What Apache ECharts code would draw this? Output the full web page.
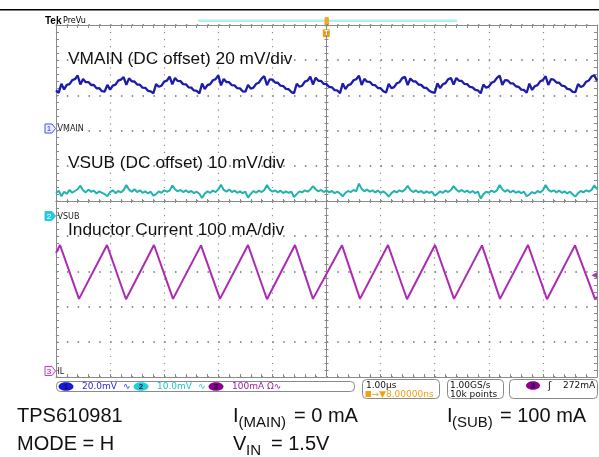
<!DOCTYPE html>
<html><head><meta charset="utf-8">
<script src="https://cdn.jsdelivr.net/npm/echarts@6/dist/echarts.min.js"></script>
<style>html,body{margin:0;padding:0;background:#fff}#c{width:599px;height:457px}</style>
</head><body><div id="c"></div><script>
// ---- Time base: 1 µs/div, 10 divisions, trigger at centre ----
const timeMinUs = -5, timeMaxUs = 5;
const divMin = -5, divMax = 5;
const sampleStartUs = -5, sampleStepUs = 0.05;

// ---- Channel settings (scale per division, ground marker position in divisions) ----
const ch1Scale = 20,  ch1Ground = 2.07;   // VMAIN, mV/div (DC offset)
const ch2Scale = 10,  ch2Ground = -0.426; // VSUB,  mV/div (DC offset)
const ch3Scale = 100, ch3Ground = -4.83;  // IL,    mA/div

// ---- VMAIN ripple (mV above channel marker), sampled every 0.05 µs ----
const vmainMv = [
 21.4,20.0,25.2,22.0,24.6,25.0,27.3,27.8,29.9,24.8,
 27.9,26.1,26.2,24.5,24.5,22.6,22.7,21.0,20.8,24.6,
 21.9,24.2,24.7,27.0,27.6,29.0,24.6,28.3,26.6,26.5,
 24.8,24.7,23.0,22.9,21.2,20.9,19.8,25.0,23.5,24.1,
 26.4,27.0,29.3,24.9,28.5,26.8,26.7,25.0,24.9,23.2,
 23.0,21.4,21.2,19.7,25.3,22.2,24.4,25.0,27.2,27.8,
 30.0,24.3,27.9,26.2,26.1,24.4,24.3,22.7,22.6,20.9,
 20.7,24.6,22.4,23.0,25.2,25.8,28.1,29.5,24.4,27.7,
 27.6,25.9,25.8,24.1,23.9,22.3,22.1,20.5,19.9,25.2,
 23.5,24.1,26.4,27.0,29.2,24.8,28.6,26.9,26.8,25.1,
 25.0,23.4,23.2,21.6,21.4,19.9,25.4,22.2,24.4,25.0,
 27.2,27.8,29.8,24.5,28.0,26.4,26.3,24.6,24.4,22.8,
 22.7,21.0,20.2,25.1,22.7,23.3,25.5,26.1,28.4,29.1,
 24.4,28.2,26.6,26.5,24.8,24.6,23.0,22.8,21.2,20.4,
 20.0,25.4,22.7,24.9,25.6,27.8,28.5,24.7,28.5,26.9,
 26.8,25.1,25.0,23.4,23.2,21.7,21.4,19.8,24.8,23.0,
 23.6,25.8,26.4,28.6,29.8,24.6,27.3,27.1,25.5,25.4,
 23.8,23.5,21.9,21.7,20.1,25.3,21.7,23.8,24.4,26.6,
 27.3,29.5,24.5,27.8,27.5,25.9,25.8,24.1,23.9,22.3,
 22.0,20.6,20.4,25.0,23.4,24.1,26.4,27.1,29.3,30.1,
 27.0];

// ---- VSUB ripple (mV above channel marker), sampled every 0.05 µs ----
const vsubMv = [
 6.5,7.2,5.6,6.9,6.3,7.4,6.6,7.1,7.6,8.6,
 7.3,6.7,7.5,6.9,7.2,6.4,7.0,6.6,6.2,5.6,
 6.8,7.3,6.5,7.1,6.7,7.4,8.8,7.5,6.9,7.6,
 6.8,7.3,6.6,7.0,6.4,6.9,5.8,6.2,7.0,6.6,
 7.3,6.9,7.2,8.7,7.6,7.0,7.4,6.8,7.3,6.7,
 7.1,6.5,6.9,6.3,5.1,6.4,7.0,6.6,7.2,6.8,
 7.5,8.9,7.4,6.9,7.5,6.8,7.2,6.6,7.0,6.5,
 6.9,5.2,6.3,7.1,6.6,7.2,6.8,7.4,8.8,7.5,
 6.9,7.3,6.7,7.2,6.5,7.0,6.6,6.9,5.4,6.2,
 7.0,6.7,7.3,6.9,7.5,8.5,7.6,7.0,7.4,6.8,
 7.3,6.7,7.1,6.5,6.9,6.4,5.6,6.6,7.1,6.8,
 7.4,7.0,9.2,7.7,7.0,7.5,6.9,7.3,6.7,7.2,
 6.6,7.0,6.4,5.5,6.5,7.1,6.7,7.3,6.9,7.5,
 8.6,7.4,6.8,7.3,6.7,7.1,6.5,7.0,6.6,6.9,
 5.8,6.3,7.0,6.6,7.2,6.8,7.4,8.5,7.5,6.9,
 7.4,6.8,7.2,6.6,7.1,6.5,6.9,4.9,6.2,6.9,
 6.6,7.2,6.8,7.3,8.8,7.6,6.9,7.4,6.7,7.2,
 6.6,7.0,6.5,6.9,5.6,6.1,6.8,6.4,7.1,6.7,
 7.3,8.8,7.5,6.9,7.3,6.7,7.2,6.6,7.0,6.4,
 6.9,6.2,5.5,6.5,7.1,6.7,7.3,6.9,7.4,8.7,
 7.6];

// ---- Inductor current: corner points of the triangle wave ----
const ilTimeUs = [-5.000,-4.926,-4.575,-4.057,-3.706,-3.189,-2.837,-2.320,-1.969,-1.451,-1.100,-0.582,-0.250,0.287,0.619,1.137,1.488,2.006,2.357,2.874,3.207,3.725,4.076,4.593,4.963,5.000];
const ilMa     = [335,358,205,358,204,358,205,357,205,358,204,358,205,357,205,358,204,358,205,357,205,358,204,357,205,210];

// ---- Texts ----
const traceLabels = ['VMAIN (DC offset) 20 mV/div','VSUB (DC offset) 10 mV/div','Inductor Current 100 mA/div'];
const chNames = ['VMAIN','VSUB','IL'];
const statusCh = ['20.0mV','10.0mV','100mA Ω∿'];
const timeText = ['1.00µs','8.00000ns'];
const acqText = ['1.00GS/s','10k points'];
const trigText = '272mA';

// ---- build ----
const sampled = arr => arr.map((v,i)=>[sampleStartUs + i*sampleStepUs, v]);
const chart = echarts.init(document.getElementById('c'));
const gray = '#8a8a8a', dotc = '#8e8e8e', dotH = '#6e6e6e';
const F = '"Liberation Sans", Arial, sans-serif';

function xAx(pos, opts){
  return Object.assign({type:'value', min:timeMinUs, max:timeMaxUs, interval:1, position:pos,
    axisLabel:{show:false}, splitLine:{show:false},
    axisLine:{show:true, onZero:false, lineStyle:{color:gray, width:1}},
    axisTick:{show:true, inside:true, length:3, lineStyle:{color:gray}},
    minorTick:{show:true, splitNumber:5, length:3, lineStyle:{color:gray}}}, opts||{});
}
function yAx(pos, opts){
  return Object.assign({type:'value', min:divMin, max:divMax, interval:1, position:pos,
    axisLabel:{show:false}, splitLine:{show:false},
    axisLine:{show:true, onZero:false, lineStyle:{color:gray, width:1}},
    axisTick:{show:true, inside:true, length:3, lineStyle:{color:gray}},
    minorTick:{show:true, splitNumber:5, length:3, lineStyle:{color:gray}}}, opts||{});
}
const chAxis = (s,g)=>({type:'value', show:false, min:(divMin-g)*s, max:(divMax-g)*s, splitLine:{show:false}});

const T = (text,x,y,font,fill,align)=>({type:'text', x:x, y:y, silent:true, z:10,
  style:{text:text, font:font, fill:fill, align:align||'left', textAlign:align||'left', verticalAlign:'middle', textVerticalAlign:'middle'}});

const g = [];
// top black rule
g.push({type:'rect', shape:{x:0,y:9,width:599,height:1.5}, style:{fill:'#000'}});
// Tek PreVu
g.push(T('Tek',45,21,'bold 10px '+F,'#000'));
g.push(T('PreVu',63,21,'8px "DejaVu Sans", sans-serif','#000'));
// record bar
g.push({type:'rect', shape:{x:198,y:19.5,width:259,height:2.5}, style:{fill:'#aef0f0'}});
g.push({type:'rect', shape:{x:324.5,y:17,width:4.5,height:9.5,r:1.5}, style:{fill:'#f5a623'}});
g.push({type:'rect', shape:{x:322.8,y:29.3,width:7,height:8,r:1}, style:{fill:'#f0a010'}});
g.push(T('T',326.3,33.5,'bold 7px '+F,'#fff','center'));
// channel markers
const mk = (yc, fill, stroke, num, numColor, name)=>{
  g.push({type:'polygon', shape:{points:[[45,yc-4.5],[52,yc-4.5],[55.5,yc],[52,yc+4.5],[45,yc+4.5]]}, style:{fill:fill, stroke:stroke, lineWidth:1}});
  g.push(T(num,49,yc+0.5,'8px '+F,numColor,'center'));
  g.push(T(name,57.5,yc+0.5,'8px "DejaVu Sans", sans-serif','#222'));
};
mk(128.5,'#eef0ff','#4a4aff','1','#3030d0',chNames[0]);
mk(216,'#26c9e0','#26c9e0','2','#ffffff',chNames[1]);
mk(371,'#fdeefd','#c040c0','3','#b020b0',chNames[2]);
// trigger level arrow
g.push({type:'polygon', shape:{points:[[597,272.3],[597,278.3],[591.5,275.3]]}, style:{fill:'#b030b0'}});
// trace labels
g.push(T(traceLabels[0],68,59.5,'17.3px '+F,'#111'));
g.push(T(traceLabels[1],68,163.5,'17.3px '+F,'#111'));
g.push(T(traceLabels[2],68,230,'17.3px '+F,'#111'));
// status bar
const box = (x,y,w,h)=>g.push({type:'rect', shape:{x:x,y:y,width:w,height:h,r:4}, style:{fill:'none', stroke:'#8a8a8a', lineWidth:1}});
box(56.5,381.5,298,10);
box(362.5,379.5,77,19);
box(447.5,379.5,56,19);
box(509.5,379.5,88,19);
const ell = (cx,fill,num)=>{ g.push({type:'ellipse', shape:{cx:cx,cy:386.5,rx:7.5,ry:4.3}, style:{fill:fill}}); g.push(T(num,cx,387,'bold 8px '+F,'#101040','center')); };
ell(66,'#1818d8','1'); ell(141,'#22d0dc','2'); ell(216,'#8c008c','3');
g.push(T(statusCh[0],82,387,'9px "DejaVu Sans", sans-serif','#2a2ae0'));
g.push(T('∿',123,387,'9px "DejaVu Sans", sans-serif','#2a2ae0'));
g.push(T(statusCh[1],157,387,'9px "DejaVu Sans", sans-serif','#20c4d0'));
g.push(T('∿',198,387,'9px "DejaVu Sans", sans-serif','#20c4d0'));
g.push(T(statusCh[2],232,387,'9px "DejaVu Sans", sans-serif','#a020a0'));
g.push(T(timeText[0],366,385.5,'9px "DejaVu Sans", sans-serif','#111'));
g.push({type:'rect', shape:{x:365.5,y:391,width:5.5,height:6}, style:{fill:'#f0a010'}});
g.push(T('→▼'+timeText[1],371.5,394.5,'9px "DejaVu Sans", sans-serif','#f0a010'));
g.push(T(acqText[0],450,385.5,'9px "DejaVu Sans", sans-serif','#111'));
g.push(T(acqText[1],450,394.5,'9px "DejaVu Sans", sans-serif','#111'));
g.push({type:'ellipse', shape:{cx:533,cy:385.5,rx:7,ry:4.3}, style:{fill:'#8c008c'}});
g.push(T('3',533,386,'bold 8px '+F,'#101040','center'));
g.push(T('ʃ',548,386,'10px "DejaVu Sans", sans-serif','#111'));
g.push(T(trigText,563,385.5,'9px "DejaVu Sans", sans-serif','#111'));
// bottom annotations
const big = '20px '+F, sub = '15px '+F;
g.push(T('TPS610981',17,416,big,'#111'));
g.push(T('MODE = H',17,444,big,'#111'));
g.push(T('I',233,416,big,'#111'));
g.push(T('(MAIN)',238.5,423,sub,'#111'));
g.push(T('= 0 mA',294,416,big,'#111'));
g.push(T('I',447,416,big,'#111'));
g.push(T('(SUB)',452,423,sub,'#111'));
g.push(T('= 100 mA',500,416,big,'#111'));
g.push(T('V',233,444,big,'#111'));
g.push(T('IN',246,451,sub,'#111'));
g.push(T('= 1.5V',271,444,big,'#111'));

const option = {
  animation:false,
  backgroundColor:'#ffffff',
  grid:{left:56, top:25, width:541, height:352, containLabel:false},
  xAxis:[
    xAx('bottom',{splitLine:{show:true, showMinLine:true, showMaxLine:true, lineStyle:{color:dotc, width:1.2, type:[1.2,5.84]}}}),
    xAx('top'),
    xAx('bottom',{axisLine:{show:true,onZero:true,onZeroAxisIndex:0,lineStyle:{color:gray}}, axisTick:{show:true,inside:true,length:2,lineStyle:{color:gray}}, minorTick:{show:true,splitNumber:5,length:2,lineStyle:{color:gray}}}),
    xAx('bottom',{axisLine:{show:true,onZero:true,onZeroAxisIndex:0,lineStyle:{color:gray}}, axisTick:{show:true,inside:false,length:2,lineStyle:{color:gray}}, minorTick:{show:true,splitNumber:5,length:2,lineStyle:{color:gray}}})
  ],
  yAxis:[
    yAx('left',{splitLine:{show:true, showMinLine:true, showMaxLine:true, lineStyle:{color:dotH, width:1.5, type:[1.5,9.32]}}}),
    yAx('right'),
    yAx('left',{axisLine:{show:true,onZero:true,onZeroAxisIndex:0,lineStyle:{color:gray}}, axisTick:{show:true,inside:true,length:2,lineStyle:{color:gray}}, minorTick:{show:true,splitNumber:5,length:2,lineStyle:{color:gray}}}),
    yAx('left',{axisLine:{show:true,onZero:true,onZeroAxisIndex:0,lineStyle:{color:gray}}, axisTick:{show:true,inside:false,length:2,lineStyle:{color:gray}}, minorTick:{show:true,splitNumber:5,length:2,lineStyle:{color:gray}}}),
    chAxis(ch1Scale,ch1Ground),
    chAxis(ch2Scale,ch2Ground),
    chAxis(ch3Scale,ch3Ground)
  ],
  series:[
    {name:'VMAIN', type:'line', xAxisIndex:0, yAxisIndex:4, data:sampled(vmainMv), showSymbol:false, symbol:'none', silent:true, lineStyle:{color:'#1c1caa', width:2.3}},
    {name:'VSUB', type:'line', xAxisIndex:0, yAxisIndex:5, data:sampled(vsubMv), showSymbol:false, symbol:'none', silent:true, lineStyle:{color:'#22b3ae', width:2}},
    {name:'IL', type:'line', xAxisIndex:0, yAxisIndex:6, data:ilTimeUs.map((t,i)=>[t, ilMa[i]]), showSymbol:false, symbol:'none', silent:true, lineStyle:{color:'#ac2ab4', width:2}}
  ],
  graphic:g
};
chart.setOption(option);
</script></body></html>
